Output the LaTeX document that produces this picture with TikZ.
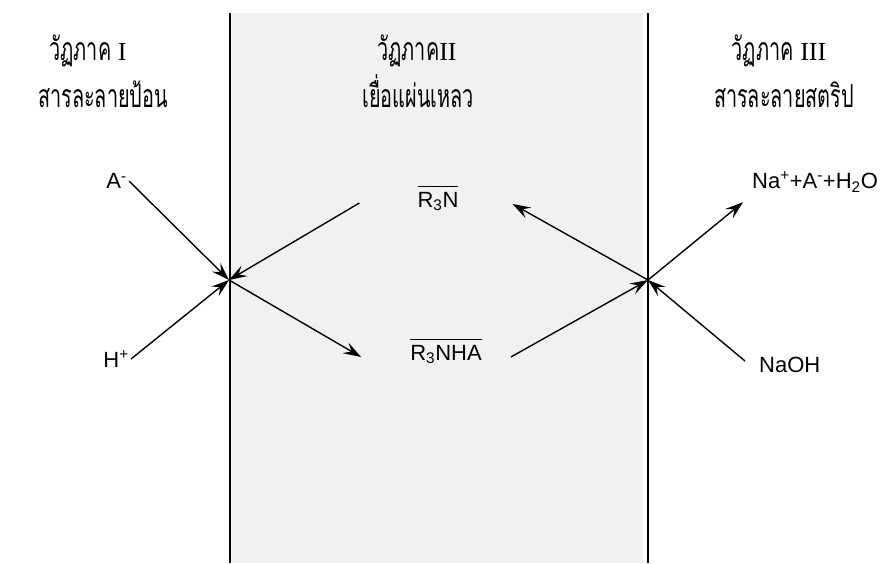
\documentclass[tikz,border=0pt]{standalone}
\usepackage{fontspec}
\setmainfont{Liberation Serif}
\setsansfont{Liberation Sans}
\newfontfamily\thaifont[Script=Thai, FakeStretch=0.62]{Loma}
\usetikzlibrary{arrows.meta}

\definecolor{membrane}{RGB}{241,241,241}
% roman numeral of a phase, in the serif face
\newcommand{\phnum}[1]{{\rmfamily\fontsize{26}{30}\selectfont #1}}
% barred species of the membrane phase
\newcommand{\barred}[1]{$\overline{\mbox{\rule{0pt}{20pt}#1}}$}

\begin{document}
\begin{tikzpicture}[
    x=1pt, y=-1pt,
    wall/.style={line width=2.4pt},
    flow/.style={-{Stealth[length=18pt,width=12pt,inset=7pt]}, line width=1.4pt},
    phase/.style={font=\thaifont\fontsize{32}{36}\selectfont, anchor=base, inner sep=0pt},
    chem/.style={font=\sffamily\fontsize{22}{26}\selectfont, inner sep=2pt}
]
\useasboundingbox (0,0) rectangle (892,563);

% liquid membrane between the two walls
\fill[membrane] (230,13) rectangle (643,563);
\draw[wall] (230,13) -- (230,563);
\draw[wall] (648,13) -- (648,563);

% phase headings
\node[phase] (p1a) at (88,60) {วัฏภาค \phnum{I}};
\node[phase] (p1b) at (103,107) {สารละลายป้อน};
\node[phase] (p2a) at (417,60) {วัฏภาค\phnum{II}};
\node[phase] (p2b) at (418,107) {เยื่อแผ่นเหลว};
\node[phase] (p3a) at (779,60) {วัฏภาค \phnum{III}};
\node[phase] (p3b) at (784,107) {สารละลายสตริป};

% species
\node[chem, anchor=east] (am) at (129,181) {A\textsuperscript{-}};
\node[chem, anchor=east] (hp) at (131,359) {H\textsuperscript{+}};
\node[chem] (rn) at (438,198) {\barred{R\textsubscript{3}N}};
\node[chem] (rnha) at (446,351) {\barred{R\textsubscript{3}NHA}};
\node[chem, anchor=west] (prod) at (750,182) {Na\textsuperscript{+}+A\textsuperscript{-}+H\textsubscript{2}O};
\node[chem, anchor=west] (naoh) at (757,365) {NaOH};

\coordinate (lj) at (229,280);
\coordinate (rj) at (648,280);

\draw[flow] (am.east) -- (lj);
\draw[flow] (hp.east) -- (lj);
\draw[flow] ([xshift=-56pt,yshift=-5pt]rn.west) -- (lj);
\draw[flow] (lj) -- ([xshift=-47pt,yshift=-6pt]rnha.west);
\draw[flow] ([xshift=27pt,yshift=-6pt]rnha.east) -- (rj);
\draw[flow] (rj) -- ([xshift=52pt,yshift=-6pt]rn.east);
\draw[flow] (rj) -- ([xshift=-7pt,yshift=-8pt]prod.south west);
\draw[flow] ([xshift=-12pt,yshift=-6pt]naoh.north west) -- (rj);
\end{tikzpicture}
\end{document}
